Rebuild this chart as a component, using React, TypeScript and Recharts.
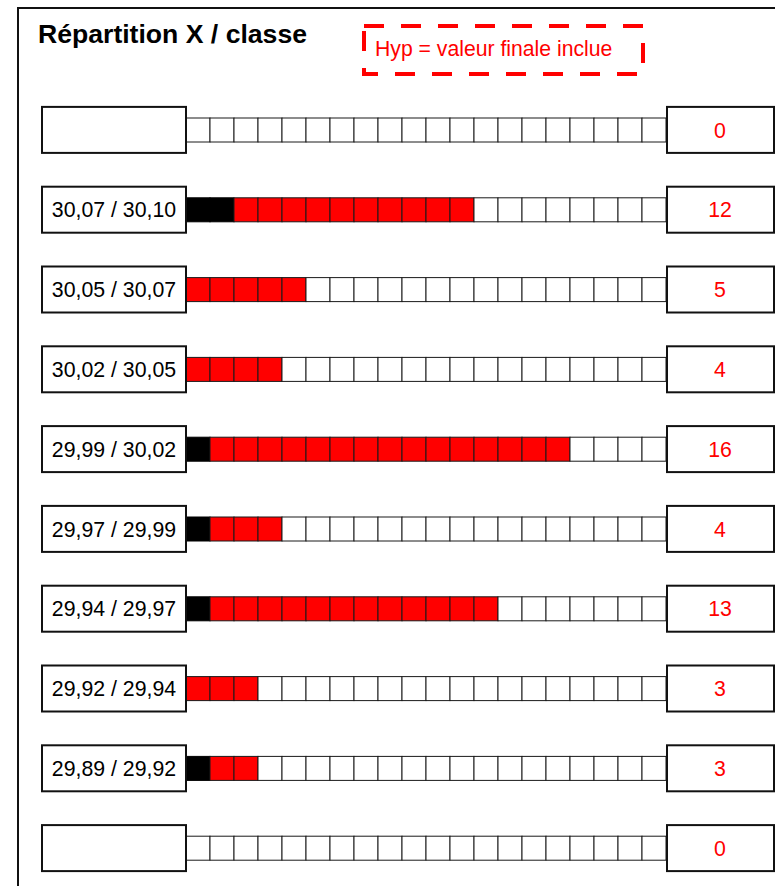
import React from "react";
import { BarChart, Bar, XAxis, YAxis } from "recharts";

// Class intervals (top to bottom), blank rows at each end
const classes = [
  "",
  "30,07 / 30,10",
  "30,05 / 30,07",
  "30,02 / 30,05",
  "29,99 / 30,02",
  "29,97 / 29,99",
  "29,94 / 29,97",
  "29,92 / 29,94",
  "29,89 / 29,92",
  "",
];
// black cells = values on the upper bound, red = the rest
const blackCells = [0, 2, 0, 0, 1, 1, 1, 0, 1, 0];
const redCells = [0, 10, 5, 4, 15, 3, 12, 3, 2, 0];
const totalCells = 20;

const data = classes.map((c, i) => ({
  classe: c,
  black: blackCells[i],
  red: redCells[i],
  empty: totalCells - blackCells[i] - redCells[i],
  total: blackCells[i] + redCells[i],
}));

const FONT = "'Liberation Sans', Arial, sans-serif";

// draws a stacked segment as n unit squares
const cellShape = (key: string, fill: string) => (props: any) => {
  const { x, y, width, height, payload } = props;
  const n = payload[key];
  if (!n || !width) return <g />;
  const w = width / n;
  return (
    <g>
      {Array.from({ length: n }).map((_, i) => (
        <rect
          key={i}
          x={x + i * w}
          y={y}
          width={w}
          height={height}
          fill={fill}
          stroke={fill === "#000000" ? "#000000" : "#1a1a1a"}
          strokeWidth={1}
        />
      ))}
    </g>
  );
};

const LabelTick = (props: any) => {
  const { y, payload } = props;
  const label = data[payload.value]?.classe ?? "";
  return (
    <g>
      <rect x={42} y={y - 23} width={144} height={46} fill="#fff" stroke="#111" strokeWidth={2} />
      <text x={114} y={y} dy="0.36em" textAnchor="middle" fontSize={21.3} fontFamily={FONT} fill="#000">
        {label}
      </text>
    </g>
  );
};

const CountTick = (props: any) => {
  const { y, payload } = props;
  const total = data[payload.value]?.total ?? 0;
  return (
    <g>
      <rect x={667} y={y - 23} width={107} height={46} fill="#fff" stroke="#111" strokeWidth={2} />
      <text x={720} y={y} dy="0.36em" textAnchor="middle" fontSize={21.3} fontFamily={FONT} fill="#ff0000">
        {total}
      </text>
    </g>
  );
};

export default function App() {
  return (
    <div style={{ position: "absolute", left: 0, top: 0, width: 775, height: 886, overflow: "hidden", background: "#fff" }}>
      <svg width={775} height={886} style={{ position: "absolute", left: 0, top: 0 }}>
        <path d="M18 900 L18 8 L800 8" fill="none" stroke="#111" strokeWidth={2} />
        <text x={38} y={43} fontSize={26.6} fontWeight="bold" fontFamily={FONT} fill="#000">
          Répartition X / classe
        </text>
        <rect x={364} y={26} width={279} height={48} fill="none" stroke="#ff0000" strokeWidth={4} strokeDasharray="20 17" />
        <text x={375} y={56} fontSize={21.2} fontFamily={FONT} fill="#ff0000">
          Hyp = valeur finale inclue
        </text>
      </svg>
      <div style={{ position: "absolute", left: 0, top: 0 }}>
        <BarChart
          width={775}
          height={888}
          data={data}
          layout="vertical"
          margin={{ top: 90, right: 0, bottom: 0, left: 0 }}
          barSize={24}
        >
          <XAxis type="number" domain={[0, totalCells]} hide allowDataOverflow />
          <YAxis
            yAxisId="left"
            type="category"
            width={186}
            axisLine={false}
            tickLine={false}
            tick={<LabelTick />}
            interval={0}
          />
          <YAxis
            yAxisId="right"
            orientation="right"
            type="category"
            width={109}
            axisLine={false}
            tickLine={false}
            tick={<CountTick />}
            interval={0}
          />
          <Bar yAxisId="left" dataKey="black" stackId="s" isAnimationActive={false} shape={cellShape("black", "#000000")} />
          <Bar yAxisId="left" dataKey="red" stackId="s" isAnimationActive={false} shape={cellShape("red", "#ff0000")} />
          <Bar yAxisId="left" dataKey="empty" stackId="s" isAnimationActive={false} shape={cellShape("empty", "#ffffff")} />
        </BarChart>
      </div>
    </div>
  );
}
